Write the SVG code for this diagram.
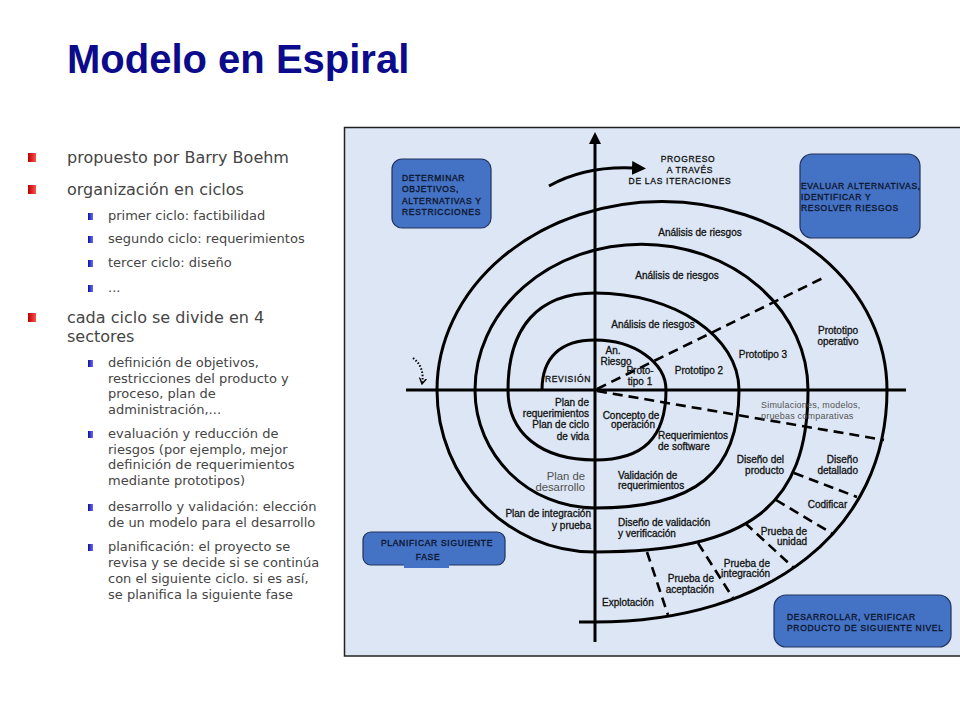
<svg xmlns="http://www.w3.org/2000/svg" width="960" height="720" viewBox="0 0 960 720">
<defs>
<linearGradient id="gRed" x1="0" y1="0" x2="1" y2="0"><stop offset="0" stop-color="#b80000"/><stop offset="1" stop-color="#ff5050"/></linearGradient>
<linearGradient id="gBlue" x1="0" y1="0" x2="1" y2="0"><stop offset="0" stop-color="#10109a"/><stop offset="1" stop-color="#6a6aff"/></linearGradient>
<marker id="arrowFill" viewBox="0 0 12 12" refX="1" refY="6" markerWidth="12" markerHeight="12" markerUnits="userSpaceOnUse" orient="auto"><path d="M0,0 L12,6 L0,12 z" fill="#000"/></marker>
<marker id="arrowBig" viewBox="0 0 14 14" refX="1" refY="7" markerWidth="14" markerHeight="14" markerUnits="userSpaceOnUse" orient="auto"><path d="M0,0 L14,7 L0,14 z" fill="#000"/></marker>
<marker id="arrowOpen" viewBox="0 0 8 8" refX="6" refY="4" markerWidth="8" markerHeight="8" markerUnits="userSpaceOnUse" orient="auto"><path d="M0,0.5 L6,4 L0,7.5" fill="none" stroke="#000" stroke-width="1.4"/></marker>
<style>
.l1{font-family:"DejaVu Sans",sans-serif;font-size:16px;fill:#454545}
.l2{font-family:"DejaVu Sans",sans-serif;font-size:13px;fill:#454545}
.lbl{font-family:"Liberation Sans",Arial,sans-serif;font-size:10px;fill:#111;stroke:#111;stroke-width:0.3}
.gray{font-family:"Liberation Sans",Arial,sans-serif;font-size:9px;fill:#555;letter-spacing:0.2px}
.big{font-family:"Liberation Sans",Arial,sans-serif;font-size:11.3px;fill:#505050}
.caps{font-family:"Liberation Sans",Arial,sans-serif;font-size:8.5px;fill:#111;stroke:#111;stroke-width:0.3;letter-spacing:0.7px}
.btxt{font-family:"Liberation Sans",Arial,sans-serif;font-size:8.5px;fill:#0e1730;stroke:#0e1730;stroke-width:0.35;letter-spacing:0.7px}
.boxr{fill:#4472c4;stroke:#22335e;stroke-width:1.2}
.sp{fill:none;stroke:#000;stroke-width:3}
.dash{fill:none;stroke:#000;stroke-width:2.6;stroke-dasharray:10 6}
.mid{text-anchor:middle}
.end{text-anchor:end}
</style>
</defs>
<rect width="960" height="720" fill="#fff"/>
<text x="67" y="73" font-family="Liberation Sans, Arial, sans-serif" font-size="40" font-weight="bold" fill="#0b0b8b">Modelo en Espiral</text>

<g id="bullets">
<rect x="28" y="153" width="8" height="9" fill="url(#gRed)"/>
<text class="l1" x="67" y="163">propuesto por Barry Boehm</text>
<rect x="28" y="185" width="8" height="9" fill="url(#gRed)"/>
<text class="l1" x="67" y="195">organización en ciclos</text>
<rect x="88" y="213" width="5" height="7" fill="url(#gBlue)"/>
<text class="l2" x="108" y="220">primer ciclo: factibilidad</text>
<rect x="88" y="236" width="5" height="7" fill="url(#gBlue)"/>
<text class="l2" x="108" y="243">segundo ciclo: requerimientos</text>
<rect x="88" y="260" width="5" height="7" fill="url(#gBlue)"/>
<text class="l2" x="108" y="267">tercer ciclo: diseño</text>
<rect x="88" y="285" width="5" height="7" fill="url(#gBlue)"/>
<text class="l2" x="108" y="292">...</text>
<rect x="28" y="313" width="8" height="9" fill="url(#gRed)"/>
<text class="l1" x="67" y="323">cada ciclo se divide en 4</text>
<text class="l1" x="67" y="342">sectores</text>
<rect x="88" y="360" width="5" height="7" fill="url(#gBlue)"/>
<text class="l2" x="108" y="367">definición de objetivos,</text>
<text class="l2" x="108" y="383">restricciones del producto y</text>
<text class="l2" x="108" y="398">proceso, plan de</text>
<text class="l2" x="108" y="414">administración,...</text>
<rect x="88" y="431" width="5" height="7" fill="url(#gBlue)"/>
<text class="l2" x="108" y="438">evaluación y reducción de</text>
<text class="l2" x="108" y="454">riesgos (por ejemplo, mejor</text>
<text class="l2" x="108" y="469">definición de requerimientos</text>
<text class="l2" x="108" y="485">mediante prototipos)</text>
<rect x="88" y="504" width="5" height="7" fill="url(#gBlue)"/>
<text class="l2" x="108" y="511">desarrollo y validación: elección</text>
<text class="l2" x="108" y="527">de un modelo para el desarrollo</text>
<rect x="88" y="544" width="5" height="7" fill="url(#gBlue)"/>
<text class="l2" x="108" y="551">planificación: el proyecto se</text>
<text class="l2" x="108" y="567">revisa y se decide si se continúa</text>
<text class="l2" x="108" y="583">con el siguiente ciclo. si es así,</text>
<text class="l2" x="108" y="599">se planifica la siguiente fase</text>
</g>

<rect x="344.5" y="127.5" width="620" height="528.5" fill="#dce6f4" stroke="#222" stroke-width="1.5"/>

<g id="connectors">
<path class="sp" d="M 542 390 C 542 357.5 560.5 340 595 340 C 634.2 340 666 362.4 666 390 C 666 437.6 643.3 460 595 460 C 541.1 460 508 433.4 508 390 C 508 327 538.4 293 595 293 C 674.5 293 739 336.4 739 390 C 739 472.6 695.8 508 595 508 C 528.7 508 475 455.2 475 390 A 166.5 145.8 0 0 1 808 390 C 808 506.6 748.4 552 595 552 C 507.7 552 437 479.5 437 390 A 225 188.5 0 0 1 887 390 C 887 529.2 770.2 622 595 622 L 579 622"/>
<line x1="406" y1="390" x2="906" y2="390" stroke="#000" stroke-width="3"/>
<line x1="595" y1="642" x2="595" y2="143" stroke="#000" stroke-width="3" marker-end="url(#arrowFill)"/>
<path d="M 549 186 Q 585 166 633 168" fill="none" stroke="#000" stroke-width="3" marker-end="url(#arrowBig)"/>
<path d="M 413 358 Q 425 367 422 384" fill="none" stroke="#000" stroke-width="2" stroke-dasharray="1.5 1.8" marker-end="url(#arrowOpen)"/>
<path class="dash" d="M 597 389 L 825 277"/>
<path class="dash" d="M 597 391 L 884 440"/>
<path class="dash" d="M 794 473 L 857 497"/>
<path class="dash" d="M 776 500 L 833 534"/>
<path class="dash" d="M 745 523 L 794 568"/>
<path class="dash" d="M 698 543 L 733 598"/>
<path class="dash" d="M 647 552 L 668 615"/>
</g>

<g id="node-determinar">
<rect class="boxr" x="392" y="159" width="99" height="69" rx="10"/>
<text class="btxt" x="402" y="181">DETERMINAR</text>
<text class="btxt" x="402" y="192">OBJETIVOS,</text>
<text class="btxt" x="402" y="203.5">ALTERNATIVAS Y</text>
<text class="btxt" x="402" y="215">RESTRICCIONES</text>
</g>
<g id="node-evaluar">
<rect class="boxr" x="800" y="154" width="120" height="84" rx="12"/>
<text class="btxt" x="801" y="189">EVALUAR ALTERNATIVAS,</text>
<text class="btxt" x="801" y="200">IDENTIFICAR Y</text>
<text class="btxt" x="801" y="211">RESOLVER RIESGOS</text>
</g>
<g id="node-planificar">
<rect class="boxr" x="363" y="532" width="142" height="33" rx="8"/>
<rect x="404" y="562" width="45" height="6" fill="#4472c4"/>
<text class="btxt mid" x="437" y="546">PLANIFICAR SIGUIENTE</text>
<text class="btxt mid" x="428" y="560">FASE</text>
</g>
<g id="node-desarrollar">
<rect class="boxr" x="774" y="595" width="177" height="52" rx="12"/>
<text class="btxt" x="787" y="620">DESARROLLAR, VERIFICAR</text>
<text class="btxt" x="787" y="631">PRODUCTO DE SIGUIENTE NIVEL</text>
</g>

<g id="labels">
<text class="caps mid" x="688" y="161.5">PROGRESO</text>
<text class="caps mid" x="690" y="173">A TRAVÉS</text>
<text class="caps mid" x="680" y="184">DE LAS ITERACIONES</text>
<text class="lbl mid" x="700" y="235.5">Análisis de riesgos</text>
<text class="lbl mid" x="677" y="278.5">Análisis de riesgos</text>
<text class="lbl mid" x="653" y="327.5">Análisis de riesgos</text>
<text class="lbl mid" x="613" y="354">An.</text>
<text class="lbl mid" x="616" y="365">Riesgo</text>
<text class="lbl mid" x="640" y="374">Proto-</text>
<text class="lbl mid" x="640" y="385">tipo 1</text>
<text class="lbl mid" x="699" y="374">Prototipo 2</text>
<text class="lbl mid" x="763" y="357.5">Prototipo 3</text>
<text class="lbl mid" x="838" y="334">Prototipo</text>
<text class="lbl mid" x="838" y="345">operativo</text>
<text class="caps mid" x="568" y="381.5">REVISIÓN</text>
<text class="lbl end" x="589" y="406">Plan de</text>
<text class="lbl end" x="589" y="417">requerimientos</text>
<text class="lbl end" x="589" y="428">Plan de ciclo</text>
<text class="lbl end" x="589" y="440">de vida</text>
<text class="lbl mid" x="631" y="418.5">Concepto de</text>
<text class="lbl mid" x="633" y="428">operación</text>
<text class="lbl" x="658" y="438.5">Requerimientos</text>
<text class="lbl" x="658" y="449.5">de software</text>
<text class="big end" x="585" y="480">Plan de</text>
<text class="big end" x="585" y="491">desarrollo</text>
<text class="lbl" x="618" y="479">Validación de</text>
<text class="lbl" x="618" y="489">requerimientos</text>
<text class="gray" x="761" y="407.5">Simulaciones, modelos,</text>
<text class="gray" x="761" y="418.5">pruebas comparativas</text>
<text class="lbl end" x="784" y="462.5">Diseño del</text>
<text class="lbl end" x="784" y="473.5">producto</text>
<text class="lbl end" x="858" y="462.5">Diseño</text>
<text class="lbl end" x="858" y="473.5">detallado</text>
<text class="lbl mid" x="827.5" y="507.5">Codificar</text>
<text class="lbl end" x="807" y="534.5">Prueba de</text>
<text class="lbl end" x="807" y="544.5">unidad</text>
<text class="lbl end" x="770" y="566.5">Prueba de</text>
<text class="lbl end" x="770" y="576.5">integración</text>
<text class="lbl end" x="714" y="581.5">Prueba de</text>
<text class="lbl end" x="714" y="592.5">aceptación</text>
<text class="lbl" x="602" y="605.5">Explotación</text>
<text class="lbl end" x="591" y="516.5">Plan de integración</text>
<text class="lbl end" x="591" y="528.5">y prueba</text>
<text class="lbl" x="618" y="525.5">Diseño de validación</text>
<text class="lbl" x="618" y="536.5">y verificación</text>
</g>
</svg>
